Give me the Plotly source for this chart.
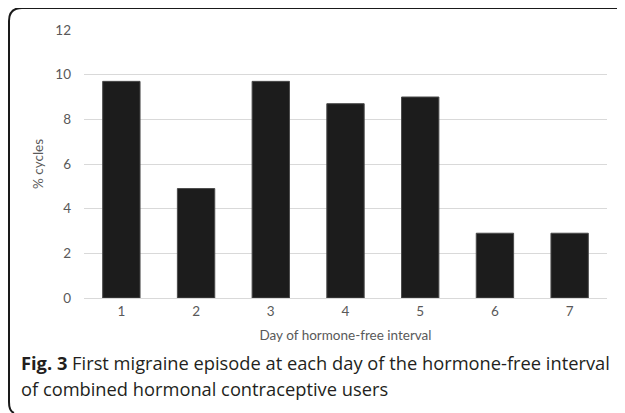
import plotly.graph_objects as go

days = ["1", "2", "3", "4", "5", "6", "7"]
pct_cycles = [9.7, 4.9, 9.7, 8.7, 9.0, 2.9, 2.9]
y_ticks = [0, 2, 4, 6, 8, 10, 12]

# the page body adds an 8px offset; work in target-pixel coordinates and shift
OFF = 8
W, H = 625 - OFF, 413 - OFF
L, R, T, B = 84 - OFF, 18, 30 - OFF, 123 - OFF
PW, PH = W - L - R, H - T - B

def px(x):
    return (x - OFF - L) / PW

def py(y):
    return (H - B - (y - OFF)) / PH

FONT = "Lato, Open Sans, sans-serif"
GREY = "#595959"

fig = go.Figure()
fig.add_trace(go.Bar(
    x=days, y=pct_cycles, width=0.5,
    marker=dict(color="#1c1c1c", line=dict(color="#4a4a4a", width=1)),
))

fig.update_layout(
    width=W, height=H,
    margin=dict(l=L, r=R, t=T, b=B),
    paper_bgcolor="white", plot_bgcolor="white",
    font=dict(family=FONT, color=GREY, size=13.5),
    showlegend=False,
    xaxis=dict(
        type="category", showgrid=False, showline=True, linecolor="#d9d9d9",
        ticks="", tickfont=dict(size=13.5, color=GREY), ticklabelstandoff=1,
        title=dict(text="Day of hormone-free interval", font=dict(size=13.5, color=GREY), standoff=12),
    ),
    yaxis=dict(
        range=[0, 12], tickvals=y_ticks, showgrid=True, gridcolor="#d9d9d9",
        zeroline=False, showline=False, ticks="", ticklabelstandoff=12,
        tickfont=dict(size=13.5, color=GREY),
        title=dict(text="% cycles", font=dict(size=13.5, color=GREY), standoff=8),
    ),
)

CAP = "Open Sans, Lato, sans-serif"
fig.add_annotation(
    xref="paper", yref="paper", x=px(19), y=py(362), xanchor="left", yanchor="middle",
    showarrow=False, align="left",
    text="<b>Fig. 3</b> First migraine episode at each day of the hormone-free interval",
    font=dict(family=CAP, size=18.3, color="#231f20"),
)
fig.add_annotation(
    xref="paper", yref="paper", x=px(19), y=py(388), xanchor="left", yanchor="middle",
    showarrow=False, align="left",
    text="of combined hormonal contraceptive users",
    font=dict(family=CAP, size=18.3, color="#231f20"),
)

# rounded frame (open on right/bottom like the reference)
path = (f"M {px(623)},{py(8)} L {px(22)},{py(8)} "
        f"Q {px(9)},{py(8)} {px(9)},{py(21)} "
        f"L {px(9)},{py(402)} Q {px(9)},{py(411)} {px(14)},{py(413)}")
fig.add_shape(type="path", xref="paper", yref="paper", path=path,
              line=dict(color="#1a1a1a", width=2))
fig.add_shape(type="line", xref="paper", yref="paper",
              x0=px(623), x1=px(623), y0=py(6), y1=py(10),
              line=dict(color="#555555", width=1))

fig.write_html("out.html")
